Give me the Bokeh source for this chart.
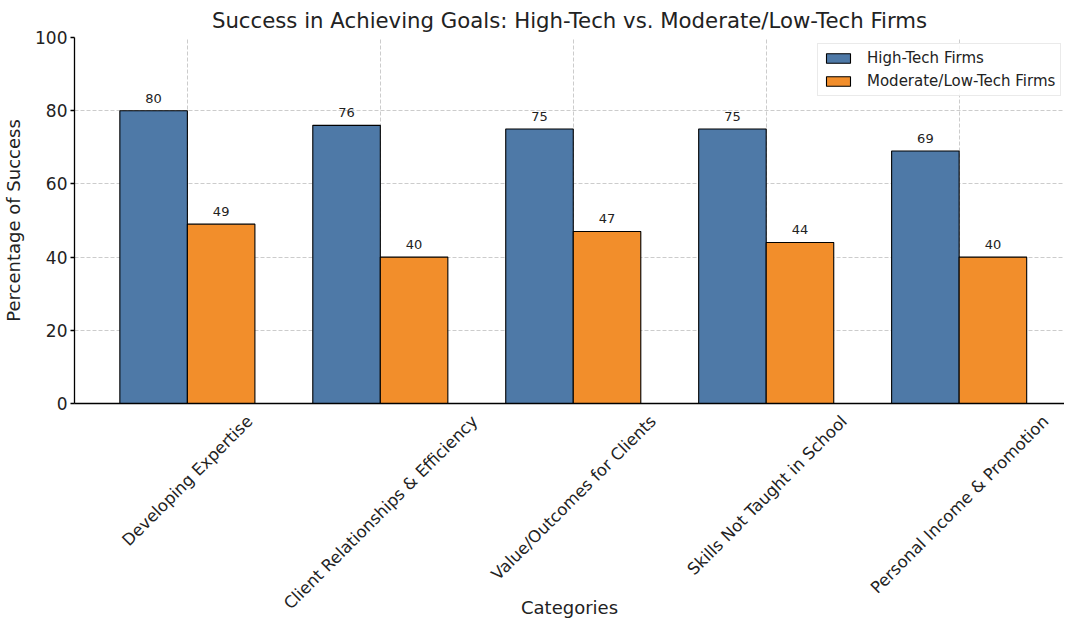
import math
from bokeh.plotting import figure
from bokeh.models import ColumnDataSource, Range1d, FixedTicker, LabelSet, Legend
from bokeh.core.properties import value
from bokeh.transform import dodge
from bokeh.embed import file_html
from bokeh.resources import INLINE

# ---- data ----
categories = [
    "Developing Expertise",
    "Client Relationships & Efficiency",
    "Value/Outcomes for Clients",
    "Skills Not Taught in School",
    "Personal Income & Promotion",
]
high_tech = [80, 76, 75, 75, 69]
moderate_low_tech = [49, 40, 47, 44, 40]
series_names = ["High-Tech Firms", "Moderate/Low-Tech Firms"]
y_ticks = [0, 20, 40, 60, 80, 100]
x_title = "Categories"
y_title = "Percentage of Success"
chart_title = "Success in Achieving Goals: High-Tech vs. Moderate/Low-Tech Firms"

# ---- style ----
FONT = "DejaVu Sans"
TXT = "#222222"
BLUE = "#4e79a7"
ORANGE = "#f28e2b"
GRID = "#cccccc"
BAR_W = 0.35
CAT_FS = 16.5
W, H = 1064, 620
BORDER_L = 67
FRAME_W = 989          # rendered width of the plot area (px)
GROUP_PX = 192.75      # px between group centres

# approximate DejaVu Sans advance widths (em), used to centre rotated labels
_W = {" ": .318, "&": .780, "/": .337, "-": .361, "A": .684, "C": .698, "D": .770,
      "E": .632, "I": .295, "N": .748, "O": .787, "P": .603, "R": .695, "S": .635,
      "T": .611, "V": .684, "a": .613, "b": .635, "c": .550, "d": .635, "e": .615,
      "f": .352, "g": .635, "h": .634, "i": .278, "k": .579, "l": .278, "m": .974,
      "n": .634, "o": .612, "p": .635, "r": .411, "s": .521, "t": .392, "u": .634,
      "v": .592, "w": .818, "x": .592, "y": .592}


def text_w(s, fs):
    return sum(_W.get(ch, .6) for ch in s) * fs


n = len(categories)
idx = list(range(n))
pad = (n - 1 + BAR_W * 2) * 0.05 + BAR_W
x_start = -pad
x_end = x_start + FRAME_W / GROUP_PX

# rotated labels are right-anchored by Bokeh; shift each anchor so that the
# label's rotated box is centred under its group
label_pos = [round(i + text_w(c, CAT_FS) / (2 * math.sqrt(2)) / GROUP_PX, 6)
             for i, c in zip(idx, categories)]

src = ColumnDataSource(dict(
    idx=idx, high=high_tech, low=moderate_low_tech,
    high_s=[str(v) for v in high_tech], low_s=[str(v) for v in moderate_low_tech],
))

p = figure(width=W, height=H, output_backend="svg", toolbar_location=None,
           x_range=Range1d(x_start, x_end), y_range=Range1d(0, 100),
           min_border_left=BORDER_L, min_border_right=0, min_border_top=29,
           min_border_bottom=215)

p.title.text = chart_title
p.title.align = "center"
p.title.offset = 4
p.title.text_font = FONT
p.title.text_font_size = "21.25px"
p.title.text_font_style = "normal"
p.title.text_color = TXT
p.title.standoff = 10

p.outline_line_color = None
p.background_fill_color = "white"

# grids
p.xgrid.ticker = FixedTicker(ticks=idx)
p.ygrid.ticker = FixedTicker(ticks=y_ticks)
for g in (p.xgrid, p.ygrid):
    g.grid_line_color = GRID
    g.grid_line_dash = "4 2"
    g.grid_line_width = 1

# axes
for ax in (p.xaxis, p.yaxis):
    ax.axis_line_color = "black"
    ax.axis_line_width = 1.3
    ax.minor_tick_line_color = None
    ax.major_tick_in = 0
    ax.axis_label_text_font = FONT
    ax.axis_label_text_font_size = "18px"
    ax.axis_label_text_font_style = "normal"
    ax.axis_label_text_color = TXT
    ax.major_label_text_font = FONT
    ax.major_label_text_color = TXT

p.yaxis.ticker = FixedTicker(ticks=y_ticks)
p.yaxis.axis_label = y_title
p.yaxis.major_tick_out = 4
p.yaxis.major_tick_line_width = 1.3
p.yaxis.major_label_standoff = 3
p.yaxis.major_label_text_font_size = "17px"
p.yaxis.axis_label_standoff = 8

p.xaxis.ticker = FixedTicker(ticks=label_pos)
p.xaxis.major_label_overrides = {pos: c for pos, c in zip(label_pos, categories)}
p.xaxis.major_label_orientation = math.pi / 4
p.xaxis.major_label_text_font_size = f"{CAT_FS}px"
p.xaxis.major_label_standoff = 15
p.xaxis.major_tick_out = 0
p.xaxis.major_tick_line_color = None
p.xaxis.axis_label = x_title
p.xaxis.axis_label_standoff = -26

# bars
r1 = p.vbar(x=dodge("idx", -BAR_W / 2), top="high", width=BAR_W, source=src,
            fill_color=BLUE, line_color="black", line_width=1.1)
r2 = p.vbar(x=dodge("idx", BAR_W / 2), top="low", width=BAR_W, source=src,
            fill_color=ORANGE, line_color="black", line_width=1.1)

# value labels
for col, ycol, off in (("high_s", "high", -BAR_W / 2), ("low_s", "low", BAR_W / 2)):
    p.add_layout(LabelSet(x=dodge("idx", off), y=ycol, text=col, source=src,
                          text_align="center", text_baseline="alphabetic", y_offset=8,
                          text_font=value(FONT), text_font_size=value("13px"),
                          text_color=TXT))

legend = Legend(items=[(series_names[0], [r1]), (series_names[1], [r2])],
                location=(743, 307))
legend.label_text_font = FONT
legend.label_text_font_size = "15px"
legend.label_text_color = TXT
legend.glyph_width = 30
legend.glyph_height = 12
legend.label_height = 16
legend.label_standoff = 14
legend.spacing = 5
legend.padding = 5
legend.margin = 0
legend.border_line_color = "#d6d6d6"
legend.border_line_width = 1
legend.background_fill_alpha = 0.85
p.add_layout(legend)

open("out.html", "w").write(file_html(p, INLINE))
